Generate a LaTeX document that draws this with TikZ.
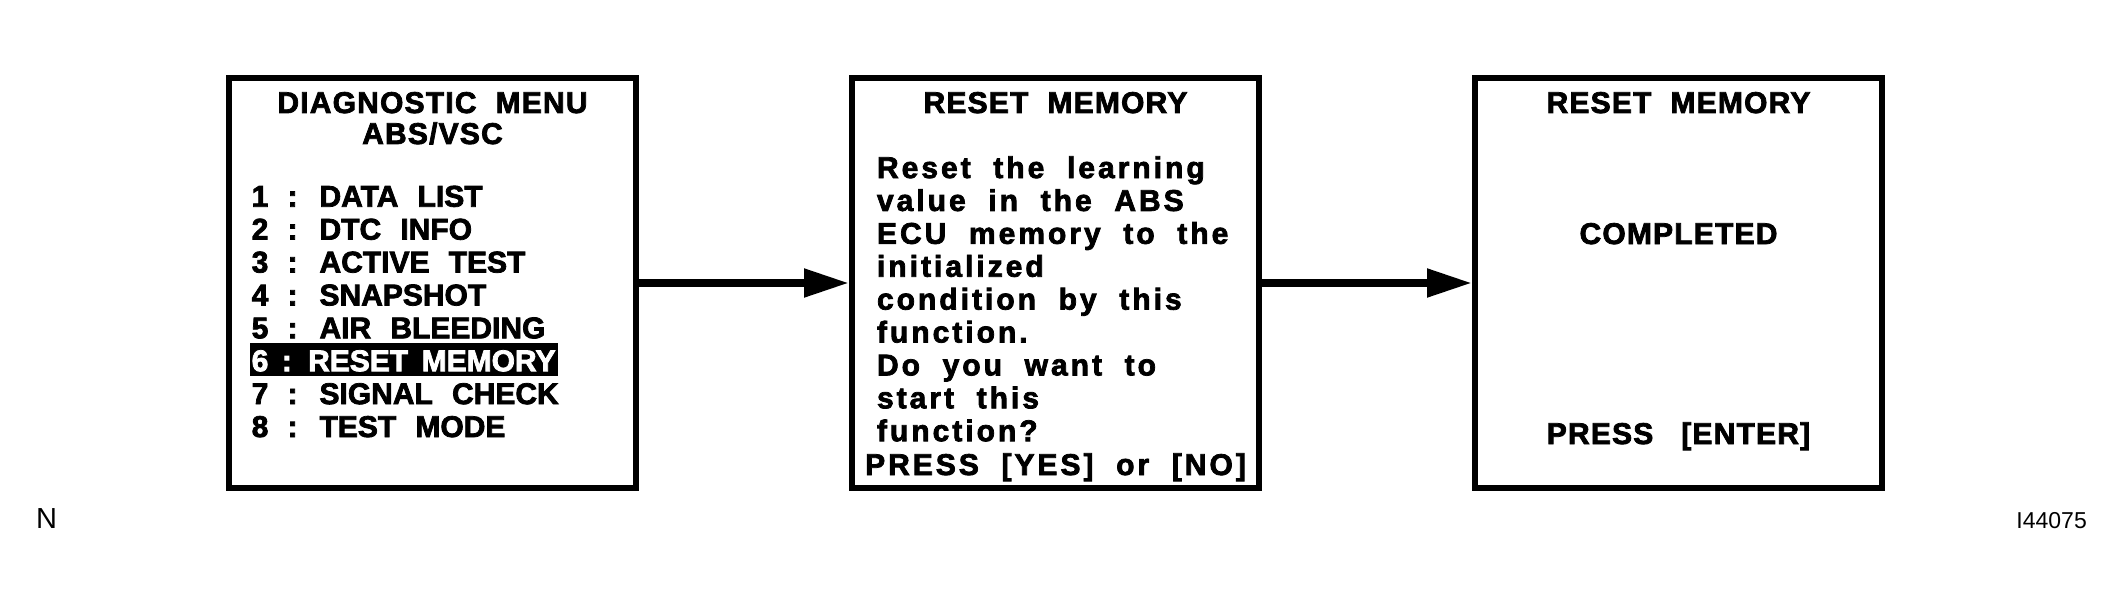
\documentclass[tikz,border=0pt]{standalone}
\usepackage{fontspec}
\setmainfont{Liberation Sans}
\newfontfamily\screenfont{Liberation Sans}[LetterSpace=4,WordSpace=2,BoldFeatures={FakeBold=2.5}]
\newfontfamily\menufont{Liberation Sans}[BoldFeatures={FakeBold=2.5}]
\newfontfamily\msgfont{Liberation Sans}[LetterSpace=10,WordSpace=2,BoldFeatures={FakeBold=2.5}]
\newcommand\menugap[1]{\spaceskip=#1\relax}
\usepackage{tikz}
\usetikzlibrary{
  arrows.meta,
  positioning,
}
\tikzstyle{arrow} = [
  -{Triangle[length=45pt,width=27pt]},
  line width=8pt,
]
\tikzstyle{screen} = [
  draw,
  rectangle,
  line width=6pt,
  minimum width=407pt,
  minimum height=410pt,
]
\tikzstyle{scrtitle} = [
  inner sep=0pt,
  outer sep=0pt,
  font=\screenfont\bfseries\fontsize{30}{33}\selectfont,
]
\tikzstyle{menuitem} = [
  inner sep=0pt,
  outer sep=0pt,
  inner xsep=2pt,
  text height=28pt,
  text depth=4.9pt,
  font={\menufont\bfseries\fontsize{30}{33}\selectfont\menugap{19.2pt}},
]
\tikzstyle{selitem} = [
  menuitem,
  fill=black,
  text=white,
  font={\menufont\bfseries\fontsize{30}{33}\selectfont\menugap{13.5pt}},
]
\tikzstyle{msgtext} = [
  inner sep=0pt,
  outer sep=0pt,
  align=left,
  font=\msgfont\bfseries\fontsize{30}{32.9}\selectfont,
]

\begin{document}
\begin{tikzpicture}[x=1pt,y=1pt,node distance=0pt and 210pt]
    \useasboundingbox (0,0) rectangle (2124,-604);
    \node[screen] (s0) at (432.5,-283) {};
    \node[screen] (s1) [right=of s0] {};
    \node[screen] (s2) [right=of s1] {};

    \draw[arrow] (s0) -- (s1);
    \draw[arrow] (s1) -- (s2);

    % diagnostic menu
    \node[scrtitle] (t0) [below=38pt of s0.north,anchor=base] {DIAGNOSTIC MENU};
    \node[scrtitle] (t0b) [below=69pt of s0.north,anchor=base] {ABS/VSC};
    \node[menuitem] (m1) [below right=103.7pt and 23.7pt of s0.north west] {1 : DATA LIST};
    \node[menuitem] (m2) [below right=0pt and 0pt of m1.south west] {2 : DTC INFO};
    \node[menuitem] (m3) [below right=0pt and 0pt of m2.south west] {3 : ACTIVE TEST};
    \node[menuitem] (m4) [below right=0pt and 0pt of m3.south west] {4 : SNAPSHOT};
    \node[menuitem] (m5) [below right=0pt and 0pt of m4.south west] {5 : AIR BLEEDING};
    \node[selitem] (m6) [below right=0pt and 0pt of m5.south west] {6 : RESET MEMORY};
    \node[menuitem] (m7) [below right=0pt and 0pt of m6.south west] {7 : SIGNAL CHECK};
    \node[menuitem] (m8) [below right=0pt and 0pt of m7.south west] {8 : TEST MODE};

    % reset question
    \node[scrtitle] (t1) [below=38pt of s1.north,anchor=base] {RESET MEMORY};
    \node[msgtext] (msg) [below right=79pt and 28pt of s1.north west] {\rule{0pt}{24pt}Reset the learning\\
        value in the ABS\\ECU memory to the\\initialized\\condition by this\\function.\\
        Do you want to\\start this\\function?};
    \node[msgtext] (ask) [above=16pt of s1.south,anchor=base] {PRESS [YES] or [NO]};

    % done
    \node[scrtitle] (t2) [below=38pt of s2.north,anchor=base] {RESET MEMORY};
    \node[scrtitle] (done) [below=169pt of s2.north,anchor=base] {COMPLETED};
    \node[scrtitle] (enter) [above=47pt of s2.south,anchor=base] {PRESS\hspace{28pt}[ENTER]};

    \node[font=\fontsize{29}{30}\selectfont,inner sep=0pt,anchor=base west] (fig) at (36,-528) {N};
    \node[font=\fontsize{23}{25}\selectfont,inner sep=0pt,anchor=base east] (code) at (2087,-528) {I44075};
\end{tikzpicture}
\end{document}
